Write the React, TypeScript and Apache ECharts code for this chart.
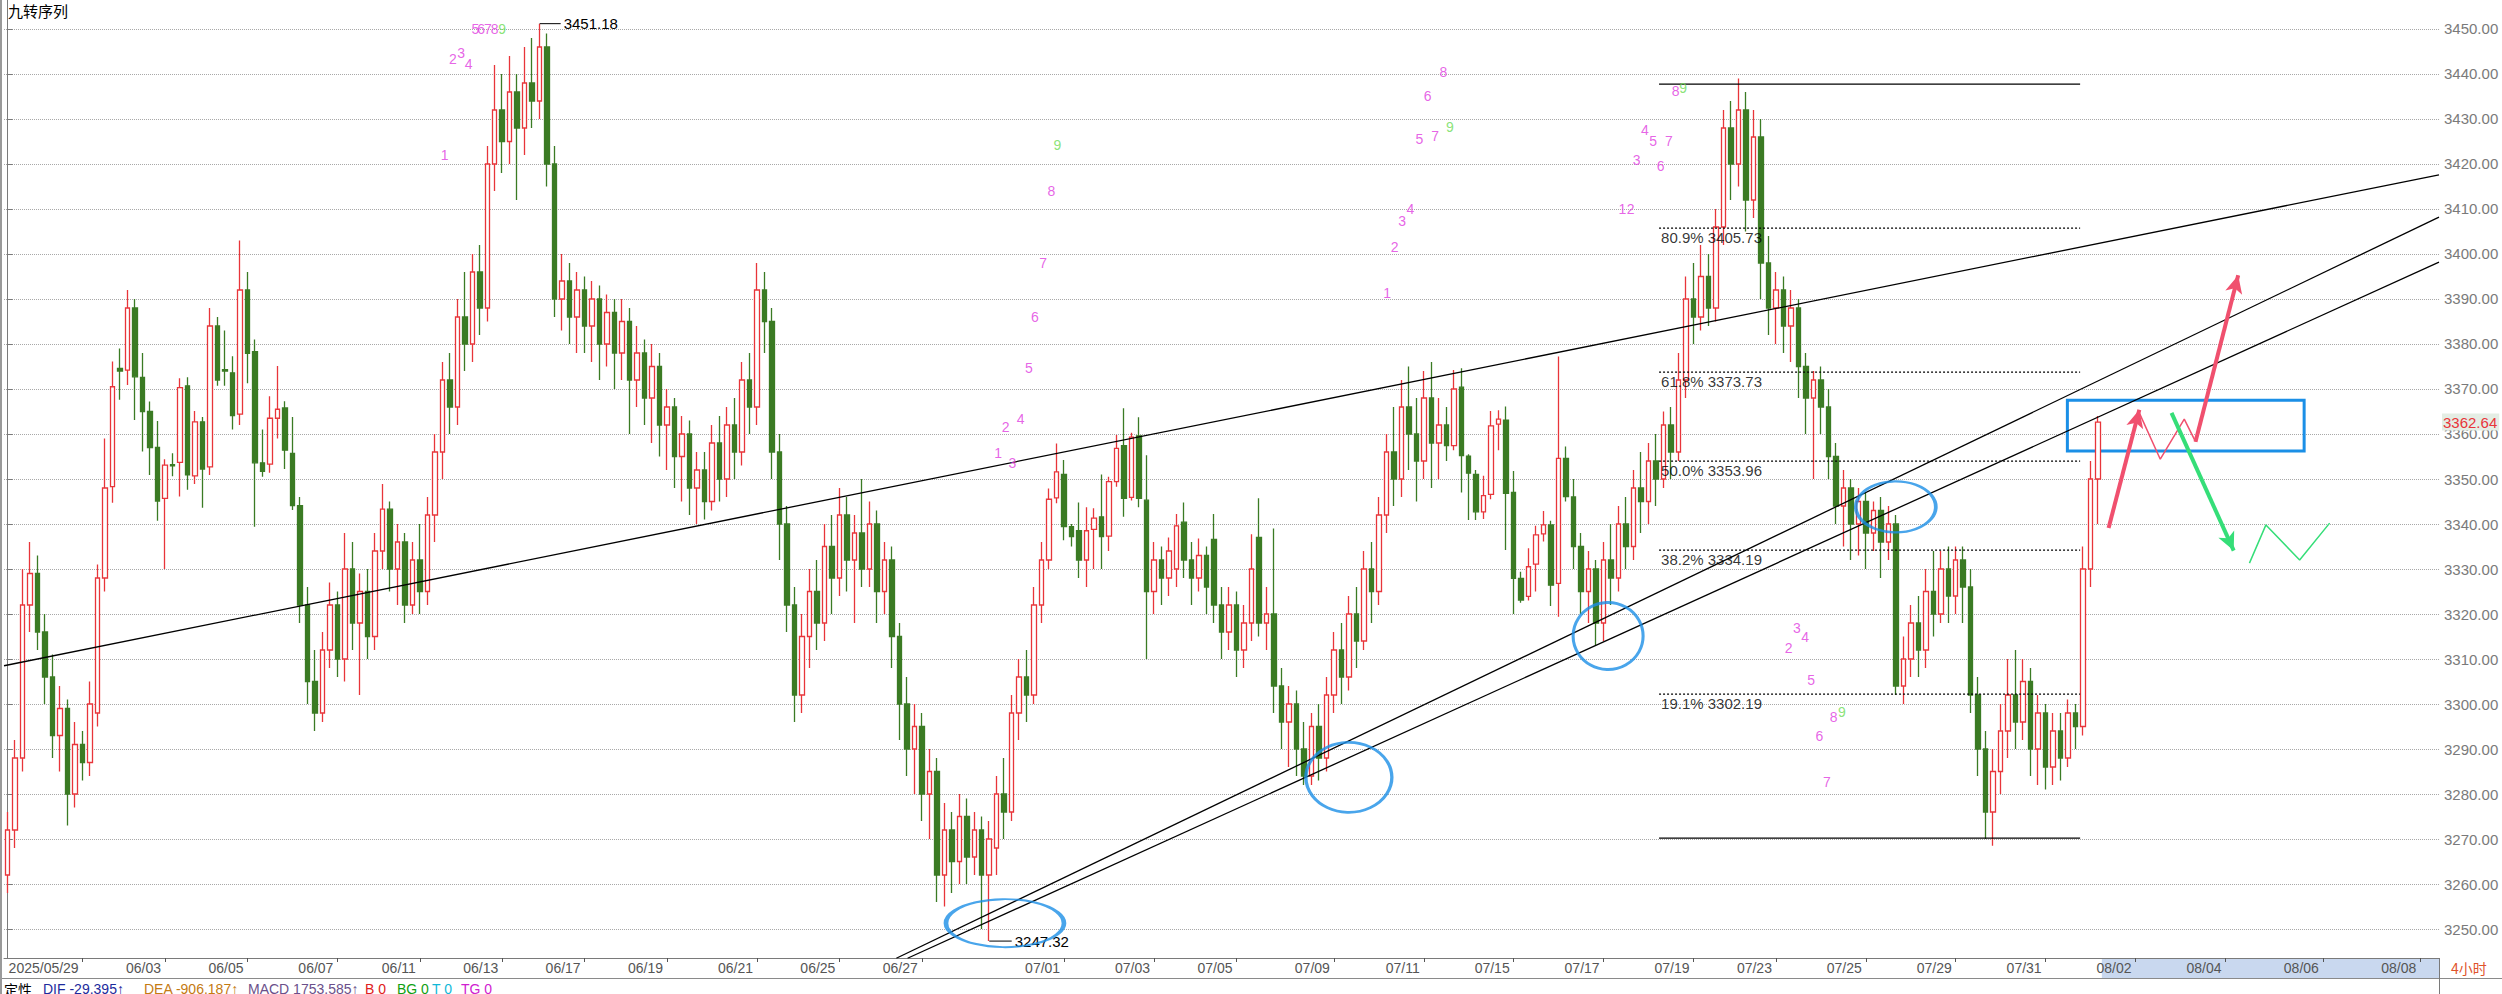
import React, { useEffect, useRef } from "react";
import * as echarts from "echarts";

const SLOT_COUNT = 325;
const Y_MIN = 3243.56;
const Y_MAX = 3456.44;

// [open, close, low, high]
const ohlc: number[][] = [
  [3262, 3272, 3258, 3276], [3272, 3288, 3268, 3292], [3288, 3322, 3285, 3330], [3322, 3329, 3316, 3336],
  [3329, 3316, 3312, 3333], [3316, 3306, 3300, 3320], [3306, 3293, 3288, 3311], [3293, 3299, 3285, 3304],
  [3299, 3280, 3273, 3301], [3280, 3291, 3277, 3296], [3291, 3287, 3283, 3294], [3287, 3300, 3284, 3305],
  [3298, 3328, 3295, 3331], [3328, 3348, 3325, 3359], [3348.3, 3370.5, 3344.7, 3376.1], [3374.6, 3374.0, 3367.6, 3379.0],
  [3374.2, 3388, 3370.9, 3392], [3388, 3372.7, 3363.1, 3390], [3372.6, 3365.0, 3356.1, 3378.0], [3365.0, 3357.0, 3350.9, 3367.2],
  [3357.0, 3345.1, 3340.7, 3362.9], [3345.7, 3353.1, 3330, 3354.4], [3353.2, 3352.9, 3350.6, 3355.7], [3353.7, 3370.3, 3346.1, 3372.4],
  [3370.7, 3350.9, 3347.6, 3372.6], [3350.7, 3362.7, 3348.9, 3365.1], [3362.7, 3352.2, 3343.6, 3363.8], [3352.7, 3384, 3350.9, 3388],
  [3384, 3372, 3370.7, 3386], [3374.3, 3374.0, 3370.7, 3383], [3373.6, 3364.1, 3361, 3377.3], [3364.4, 3392, 3362, 3403],
  [3392, 3377.9, 3371.3, 3396], [3378.3, 3353.6, 3339.4, 3381], [3353.6, 3351.7, 3350.5, 3361], [3353.3, 3363.5, 3351.4, 3368.4],
  [3363.5, 3365.5, 3359, 3375.1], [3365.8, 3356.4, 3352.2, 3367.3], [3355.7, 3344.1, 3343.1, 3363.8], [3344.1, 3322, 3318, 3346],
  [3322, 3305, 3300, 3326], [3305, 3298, 3294, 3312], [3298, 3312, 3296, 3316], [3312, 3322, 3308, 3327],
  [3322, 3310, 3306, 3325], [3310, 3330, 3305, 3338], [3330, 3318, 3312, 3336], [3318, 3325, 3302, 3329],
  [3325, 3315, 3310, 3330], [3315, 3334, 3312, 3338], [3334, 3343.3, 3330, 3348.9], [3343.3, 3330, 3325, 3345],
  [3330, 3336, 3322, 3340], [3336, 3322, 3318, 3338], [3322, 3332, 3320, 3336], [3332, 3325, 3320, 3340],
  [3325, 3342, 3322, 3346], [3342, 3356, 3336, 3360], [3356, 3372, 3350, 3376], [3372, 3366, 3360, 3378],
  [3366, 3386, 3362, 3390], [3386, 3380, 3374, 3396], [3380, 3396, 3376, 3400], [3396, 3388, 3382, 3402],
  [3388, 3420, 3385, 3424], [3420, 3432, 3414, 3442], [3432, 3425, 3418, 3440], [3425, 3436, 3420, 3444],
  [3436, 3428, 3412, 3440], [3428, 3438, 3422, 3446], [3438, 3434, 3428, 3448], [3434, 3446, 3430, 3451.18],
  [3446, 3420, 3415, 3449], [3420, 3390, 3386, 3424], [3390, 3394, 3383, 3400], [3394, 3386, 3380, 3398],
  [3386, 3392, 3378, 3396], [3392, 3384, 3378, 3395], [3384, 3390, 3376, 3394], [3390, 3380, 3372, 3393],
  [3380, 3387, 3375, 3391], [3387, 3378, 3370, 3390], [3378, 3385, 3372, 3390], [3385, 3372, 3360, 3388],
  [3372, 3378, 3366, 3384], [3378, 3368, 3362, 3381], [3368, 3375, 3358, 3380], [3375, 3362, 3355, 3378],
  [3362, 3366, 3352, 3370], [3366, 3355, 3348, 3368], [3355, 3360, 3345, 3364], [3360, 3348, 3342, 3363],
  [3348, 3352, 3340, 3356], [3352, 3345, 3341, 3356], [3345, 3358, 3343, 3362], [3358, 3350, 3345, 3364],
  [3350, 3362, 3346, 3366], [3362, 3356, 3350, 3368], [3356, 3372, 3353, 3376], [3372, 3366, 3360, 3378],
  [3366, 3392, 3362, 3398], [3392, 3385, 3378, 3396], [3385, 3356, 3350, 3388], [3356, 3340, 3332, 3360],
  [3340, 3322, 3316, 3344], [3322, 3302, 3296, 3326], [3302, 3315, 3298, 3320], [3315, 3325, 3308, 3330],
  [3325, 3318, 3312, 3332], [3318, 3335, 3314, 3340], [3335, 3328, 3320, 3342], [3328, 3342, 3324, 3348],
  [3342, 3332, 3325, 3346], [3332, 3338, 3318, 3342], [3338, 3330, 3326, 3350], [3330, 3340, 3326, 3345],
  [3340, 3325, 3318, 3343], [3325, 3332, 3320, 3336], [3332, 3315, 3308, 3335], [3315, 3300, 3292, 3318],
  [3300, 3290, 3284, 3306], [3290, 3295, 3280, 3300], [3295, 3280, 3274, 3298], [3280, 3285, 3270, 3290],
  [3285, 3262, 3256, 3288], [3262, 3272, 3255, 3278], [3272, 3265, 3258, 3276], [3265, 3275, 3260, 3280],
  [3275, 3266, 3260, 3279], [3266, 3272, 3262, 3276], [3272, 3262, 3250, 3275], [3262, 3270, 3247.32, 3274],
  [3268, 3280, 3262, 3284], [3280, 3276, 3270, 3288], [3276, 3298, 3274, 3302], [3298, 3306, 3292, 3310],
  [3306, 3302, 3296, 3312], [3302, 3322, 3300, 3326], [3322, 3332, 3318, 3336], [3332, 3345.5, 3330, 3347.9],
  [3345.8, 3351.6, 3344.6, 3357.9], [3351.0, 3339.4, 3336.4, 3354.2], [3339.4, 3337.2, 3335, 3340], [3338.5, 3332, 3328, 3344.8],
  [3332, 3338.5, 3326, 3343.7], [3338.8, 3341.3, 3330, 3343.5], [3341.6, 3337.2, 3330, 3351.0], [3337.3, 3349.4, 3334, 3350.5],
  [3349.4, 3356.8, 3348.3, 3359.8], [3357.4, 3345.7, 3341.6, 3365.7], [3345.9, 3359.3, 3345.2, 3360.3], [3359.6, 3345.7, 3343.7, 3363.7],
  [3345.3, 3325, 3310, 3355.3], [3325, 3332, 3320, 3336], [3332, 3328, 3322, 3335], [3328, 3334, 3324, 3337],
  [3330, 3339.6, 3326, 3342.2], [3340.4, 3332, 3328, 3344.8], [3332, 3328, 3322, 3336], [3328, 3333, 3325, 3336.8],
  [3333, 3326, 3320, 3335], [3336.6, 3322, 3318, 3342.2], [3322, 3316, 3310, 3326], [3316, 3322, 3312, 3326],
  [3322, 3312, 3306, 3325], [3312, 3318, 3308, 3322], [3318, 3330, 3314, 3337.7], [3337, 3318, 3315, 3345.7],
  [3318, 3320, 3312, 3326], [3320, 3304, 3298, 3339], [3304, 3296, 3290, 3308], [3296, 3300, 3286, 3304],
  [3300, 3290, 3284, 3303], [3290, 3284, 3282, 3296], [3284, 3295, 3282, 3298], [3295, 3288, 3283, 3300],
  [3288, 3302, 3285, 3306], [3302, 3312, 3298, 3316], [3312, 3306, 3300, 3318], [3306, 3320, 3303, 3324],
  [3320, 3314, 3308, 3326], [3314, 3330, 3312, 3334], [3330, 3325, 3318, 3336], [3325, 3342, 3322, 3346],
  [3342, 3356, 3338, 3360], [3356, 3350, 3344, 3366], [3350, 3366, 3346, 3372], [3366, 3360, 3352, 3375],
  [3360, 3354, 3345, 3368], [3354, 3368, 3350, 3374], [3368, 3358, 3348, 3376], [3358, 3362, 3350, 3368],
  [3362, 3357.4, 3354, 3366], [3357.4, 3370.0, 3356.4, 3374.2], [3370.4, 3355.2, 3347.0, 3374.6], [3355.1, 3351.3, 3340.9, 3355.5],
  [3351.0, 3342.7, 3340.9, 3352], [3342.7, 3346.3, 3341.1, 3350.7], [3346.6, 3361.8, 3345.5, 3365.1], [3362.2, 3363.3, 3356.4, 3365.3],
  [3363.1, 3346.8, 3334.2, 3366.1], [3347.0, 3327.9, 3320, 3351.8], [3327.9, 3323.1, 3322.5, 3329.4], [3323.9, 3330.5, 3323, 3334.6],
  [3331.1, 3337.6, 3325, 3339.6], [3337.8, 3339.8, 3336.1, 3342.9], [3339.8, 3326.4, 3321.8, 3340.7], [3326.8, 3354.6, 3319.4, 3377.2],
  [3354.6, 3346.1, 3345, 3357.2], [3346, 3335, 3330, 3350], [3335, 3325, 3320, 3338], [3325, 3330, 3318, 3334],
  [3330, 3318, 3313, 3332], [3318, 3332, 3314, 3336], [3332, 3328, 3322, 3340], [3328, 3340, 3325, 3344],
  [3340, 3335, 3330, 3346], [3335, 3348, 3332, 3352], [3348, 3345, 3338, 3356], [3345, 3354, 3340, 3358],
  [3354, 3350, 3344, 3360], [3350, 3362, 3348, 3365], [3362, 3356, 3350, 3366], [3356, 3372, 3354, 3378],
  [3372, 3390, 3368, 3395], [3390, 3386, 3380, 3398], [3386, 3395, 3383, 3402], [3395, 3388, 3384, 3400],
  [3388, 3406, 3385, 3410], [3406, 3428, 3402, 3432], [3428, 3420, 3412, 3434], [3420, 3432, 3415, 3439],
  [3432, 3412, 3405, 3436], [3412, 3426, 3408, 3432], [3426, 3398, 3390, 3430], [3398, 3388, 3382, 3404],
  [3388, 3392, 3380, 3396], [3392, 3384, 3378, 3395], [3384, 3388, 3376, 3392], [3388, 3375, 3368, 3390],
  [3375, 3368, 3360, 3378], [3368, 3372, 3350, 3374], [3372, 3366, 3360, 3375], [3366, 3355, 3350, 3370],
  [3355, 3344, 3340, 3358], [3344, 3348, 3335, 3352], [3348, 3340, 3332, 3350], [3340, 3345, 3333, 3348],
  [3345, 3338, 3330, 3347], [3338, 3343, 3334, 3345], [3343, 3336, 3328, 3346], [3336, 3340, 3332, 3344],
  [3340, 3304, 3302, 3342], [3304, 3310, 3300, 3315], [3310, 3318, 3306, 3322], [3318, 3312, 3306, 3324],
  [3312, 3325, 3308, 3330], [3325, 3320, 3315, 3334], [3320, 3330, 3318, 3334], [3330, 3324, 3318, 3335],
  [3324, 3332, 3320, 3335], [3332, 3326, 3318, 3335], [3326, 3302, 3298, 3330], [3302, 3290, 3284, 3306],
  [3290, 3276, 3270, 3294], [3276, 3285, 3268.5, 3290], [3285, 3294, 3280, 3300], [3294, 3302, 3288, 3310],
  [3302, 3296, 3290, 3312], [3296, 3305, 3292, 3310], [3305, 3290, 3284, 3308], [3290, 3298, 3282, 3302],
  [3298, 3286, 3281, 3300], [3286, 3294, 3282, 3298], [3294, 3288, 3283, 3298], [3288, 3298, 3286, 3301],
  [3298, 3295, 3290, 3300], [3295, 3330, 3293, 3335], [3330, 3350, 3326, 3354], [3350, 3362.64, 3340, 3364],
];

const tickLabels: [number, string][] = [
  [10, "2025/05/29"], [21, "06/03"], [32, "06/05"], [44, "06/07"], [55, "06/11"], [66, "06/13"],
  [77, "06/17"], [88, "06/19"], [100, "06/21"], [111, "06/25"], [122, "06/27"], [141, "07/01"],
  [153, "07/03"], [164, "07/05"], [177, "07/09"], [189, "07/11"], [201, "07/15"], [213, "07/17"],
  [225, "07/19"], [236, "07/23"], [248, "07/25"], [260, "07/29"], [272, "07/31"], [284, "08/02"],
  [296, "08/04"], [309, "08/06"], [322, "08/08"],
];

const upperLine = [[-0.5, 3308.5], [324.5, 3417.6]];
const channelLineA = [[118.6, 3243.5], [324.5, 3408.2]];
const channelLineB = [[120.1, 3243.5], [324.5, 3398.2]];

const fibLevels: [string, number][] = [
  ["80.9%", 3405.73], ["61.8%", 3373.73], ["50.0%", 3353.96], ["38.2%", 3334.19], ["19.1%", 3302.19],
];
const fibHigh = 3437.73;
const fibLow = 3270.19;
const fibRange = [220.4, 276.6];

const highPoint = [71, 3451.18];
const lowPoint = [131, 3247.32];
const lastPrice = 3362.64;

// [x, price, digit]
const nineTurn: [number, number, string][] = [
  [58.3, 3421.9, "1"], [59.4, 3443.3, "2"], [60.5, 3444.7, "3"], [61.5, 3442.2, "4"], [62.4, 3450.0, "5"],
  [63.2, 3450.0, "6"], [64.1, 3450.0, "7"], [65.0, 3450.0, "8"], [66.0, 3450.0, "9"],
  [132.2, 3355.8, "1"], [133.2, 3361.6, "2"], [134.1, 3353.6, "3"], [135.2, 3363.3, "4"], [136.3, 3374.7, "5"],
  [137.1, 3386.1, "6"], [138.2, 3397.9, "7"], [139.3, 3414.1, "8"], [140.1, 3424.2, "9"],
  [184.1, 3391.4, "1"], [185.1, 3401.6, "2"], [186.1, 3407.4, "3"], [187.2, 3409.9, "4"], [188.4, 3425.5, "5"],
  [189.5, 3435.1, "6"], [190.5, 3426.2, "7"], [191.6, 3440.4, "8"], [192.5, 3428.3, "9"],
  [215.5, 3409.9, "1"], [216.6, 3409.9, "2"], [217.4, 3420.9, "3"], [218.5, 3427.6, "4"], [219.6, 3425.1, "5"],
  [220.6, 3419.5, "6"], [221.7, 3425.1, "7"], [222.6, 3436.2, "8"], [223.6, 3436.9, "9"],
  [237.7, 3312.4, "2"], [238.8, 3317.0, "3"], [239.9, 3314.9, "4"], [240.7, 3305.3, "5"],
  [241.8, 3292.9, "6"], [242.8, 3282.6, "7"], [243.7, 3297.1, "8"], [244.8, 3298.2, "9"],
];

const ellipseCenters = [[133.1, 3251.3], [179.0, 3283.7], [213.6, 3315.1], [252.0, 3343.8]];
const zoneBox = [[274.9, 3367.5], [306.5, 3356.2]];

const redArrows = [
  [[280.4, 3339.1], [284.5, 3365.4]],
  [[292.0, 3358.3], [297.7, 3395.3]],
];
const redPath = [[284.5, 3364.7], [287.3, 3354.4], [290.5, 3363.3], [292.0, 3358.3]];
const greenArrows = [[[288.8, 3364.7], [297.1, 3334.1]]];
const greenPath = [[299.2, 3331.3], [301.4, 3339.8], [305.9, 3332.0], [309.9, 3340.2]];

const statusItems: [string, string][] = [
  ["定性", "#000000"], ["DIF -29.395↑", "#1c2a9c"], ["DEA -906.187↑", "#c47a12"],
  ["MACD 1753.585↑", "#6b4f8a"], ["B 0", "#e02020"], ["BG 0", "#10a010"], ["T 0", "#10b8d8"], ["TG 0", "#d020d0"],
];

const NUM_FONT = "Liberation Sans, Arial, sans-serif";
const CJK_FONT = "Noto Sans CJK SC, sans-serif";

export default function App() {
  const ref = useRef<HTMLDivElement>(null);

  useEffect(() => {
    if (!ref.current) return;
    const chart = echarts.init(ref.current, undefined, { renderer: "svg" });
    const categories = Array.from({ length: SLOT_COUNT }, (_, i) => String(i));
    const labelMap = new Map<number, string>(tickLabels);

    const RED = "#e8353a";
    const GREEN = "#3b7b24";
    const BLUE = "#1b8fe6";
    const ARROW_RED = "#f0506e";
    const ARROW_GREEN = "#35de78";

    const overlayLine = (data: number[][], color: string, width: number, type: any = "solid") => ({
      type: "line",
      xAxisIndex: 1,
      yAxisIndex: 0,
      data,
      symbol: "none",
      silent: true,
      lineStyle: { color, width, type },
      z: 4,
    });

    const series: any[] = [
      {
        type: "candlestick",
        xAxisIndex: 0,
        yAxisIndex: 0,
        data: ohlc,
        barWidth: 5,
        itemStyle: {
          color: "#ffffff",
          color0: GREEN,
          borderColor: RED,
          borderColor0: GREEN,
          borderWidth: 1.3,
        },
        z: 3,
      },
      overlayLine(upperLine, "#000000", 1.3),
      overlayLine(channelLineA, "#000000", 1.3),
      overlayLine(channelLineB, "#000000", 1.3),
      overlayLine([[fibRange[0], fibHigh], [fibRange[1], fibHigh]], "#000000", 1.2),
      overlayLine([[fibRange[0], fibLow], [fibRange[1], fibLow]], "#000000", 1.2),
      ...fibLevels.map(([, v]) =>
        overlayLine([[fibRange[0], v], [fibRange[1], v]], "#000000", 1.2, [2, 2])
      ),
      {
        type: "scatter",
        xAxisIndex: 1,
        yAxisIndex: 0,
        symbolSize: 0,
        silent: true,
        data: fibLevels.map(([pct, v]) => ({ value: [fibRange[0], v], name: `${pct} ${v.toFixed(2)}` })),
        label: {
          show: true,
          position: [2, 2],
          align: "left",
          verticalAlign: "top",
          formatter: (p: any) => p.name,
          color: "#000000",
          fontSize: 15,
          fontFamily: NUM_FONT,
        },
        z: 5,
      },
      {
        ...overlayLine([highPoint, [highPoint[0] + 2.8, highPoint[1]]], "#000000", 1),
        endLabel: { show: true, formatter: highPoint[1].toFixed(2), color: "#000", fontSize: 15, fontFamily: NUM_FONT, distance: 3 },
      },
      {
        ...overlayLine([lowPoint, [lowPoint[0] + 3, lowPoint[1]]], "#000000", 1),
        endLabel: { show: true, formatter: lowPoint[1].toFixed(2), color: "#000", fontSize: 15, fontFamily: NUM_FONT, distance: 3 },
      },
      {
        type: "scatter",
        xAxisIndex: 1,
        yAxisIndex: 0,
        symbolSize: 0,
        silent: true,
        data: nineTurn.map(([x, y, d]) => ({
          value: [x, y],
          name: d,
          label: { color: d === "9" ? "#6cdc55" : "#e03ce0" },
        })),
        label: {
          show: true,
          position: "inside",
          formatter: (p: any) => p.name,
          fontSize: 14,
          fontFamily: NUM_FONT,
        },
        z: 6,
      },
      {
        type: "scatter",
        xAxisIndex: 1,
        yAxisIndex: 0,
        silent: true,
        symbol: "circle",
        data: ellipseCenters.map((c, i) => ({
          value: c,
          symbolSize: [[118, 48], [86, 70], [70, 67], [80, 51]][i],
        })),
        itemStyle: { color: "rgba(0,0,0,0)", borderColor: BLUE, borderWidth: 3 },
        z: 7,
      },
      {
        type: "line",
        xAxisIndex: 1,
        yAxisIndex: 0,
        data: [],
        silent: true,
        markArea: {
          silent: true,
          itemStyle: { color: "rgba(0,0,0,0)", borderColor: BLUE, borderWidth: 3 },
          data: [[{ coord: zoneBox[0] }, { coord: zoneBox[1] }]],
        },
        markLine: {
          silent: true,
          label: { show: false },
          data: [
            ...redArrows.map(([a, b]) => [
              { coord: a, symbol: "none" },
              { coord: b, symbol: "arrow", symbolSize: [13, 18], lineStyle: { color: ARROW_RED, width: 4, type: "solid" } },
            ]),
            ...greenArrows.map(([a, b]) => [
              { coord: a, symbol: "none" },
              { coord: b, symbol: "arrow", symbolSize: [13, 18], lineStyle: { color: ARROW_GREEN, width: 4, type: "solid" } },
            ]),
          ],
        },
        z: 8,
      },
      overlayLine(redPath, ARROW_RED, 1.5),
      overlayLine(greenPath, ARROW_GREEN, 1.5),
    ];

    const option: any = {
      animation: false,
      backgroundColor: "#ffffff",
      title: {
        text: "九转序列",
        left: 3,
        top: -2,
        textStyle: { fontSize: 15, fontWeight: "normal", color: "#000", fontFamily: CJK_FONT },
      },
      grid: { left: 4, right: 63, top: 0, bottom: 36, outerBoundsMode: "none" },
      xAxis: [
        {
          type: "category",
          data: categories,
          boundaryGap: true,
          position: "bottom",
          axisLine: { lineStyle: { color: "#7a7a7a", width: 1 } },
          axisTick: {
            show: true,
            alignWithLabel: true,
            length: 4,
            interval: (i: number) => labelMap.has(i),
            lineStyle: { color: "#555" },
          },
          axisLabel: {
            interval: (i: number) => labelMap.has(i),
            formatter: (_v: string, i: number) => labelMap.get(i) || "",
            align: "right",
            padding: [0, 4, 0, 0],
            margin: 3,
            color: "#555",
            fontSize: 14,
            fontFamily: NUM_FONT,
          },
          splitLine: { show: false },
        },
        { type: "value", min: -0.5, max: SLOT_COUNT - 0.5, show: false },
      ],
      yAxis: [
        {
          type: "value",
          position: "right",
          min: Y_MIN,
          max: Y_MAX,
          splitNumber: 21,
          axisLine: { show: true, lineStyle: { color: "#7a7a7a" } },
          axisTick: { show: true, length: 5, lineStyle: { color: "#7a7a7a" } },
          axisLabel: {
            color: "#7a7a7a",
            fontSize: 15,
            fontFamily: NUM_FONT,
            margin: 5,
            showMinLabel: false,
            showMaxLabel: false,
            formatter: (v: number) => v.toFixed(2),
          },
          splitLine: {
            show: true,
            showMinLine: false,
            showMaxLine: false,
            lineStyle: { color: "#a8a8a8", type: [1, 1], width: 1 },
          },
        },
      ],
      series,
    };

    chart.setOption(option);

    const xStart = chart.convertToPixel({ xAxisIndex: 1 } as any, ohlc.length - 0.5) as number;
    const xEnd = chart.convertToPixel({ xAxisIndex: 1 } as any, SLOT_COUNT - 0.5) as number;
    const axisY = chart.convertToPixel({ yAxisIndex: 0 } as any, Y_MIN) as number;
    const lastY = chart.convertToPixel({ yAxisIndex: 0 } as any, lastPrice) as number;

    const statusX = [4, 43, 144, 248, 365, 397, 432, 461];
    const statusTexts: any[] = statusItems.map(([t, c], i) => ({
      type: "text",
      x: statusX[i],
      y: axisY + 24,
      style: { text: t, fill: c, font: `14px ${t === "定性" ? CJK_FONT : NUM_FONT}` },
      silent: true,
      z: 20,
    }));

    chart.setOption({
      graphic: [
        {
          type: "rect",
          shape: { x: xStart, y: axisY + 1, width: xEnd - xStart, height: 19 },
          style: { fill: "#c9d8ef" },
          z: -10,
          silent: true,
        },
        {
          type: "line",
          shape: { x1: 0, y1: axisY + 20.5, x2: 2502, y2: axisY + 20.5 },
          style: { stroke: "#8a8a8a", lineWidth: 1 },
          silent: true,
        },
        {
          type: "line",
          shape: { x1: xEnd + 0.5, y1: axisY, x2: xEnd + 0.5, y2: 994 },
          style: { stroke: "#7a7a7a", lineWidth: 1 },
          silent: true,
        },
        {
          type: "rect",
          shape: { x: 0, y: 0, width: 2, height: 994 },
          style: { fill: "#9a9a9a" },
          silent: true,
        },
        {
          type: "text",
          x: xEnd + 12,
          y: axisY + 3,
          style: { text: "4小时", fill: "#e0532b", font: `14px ${CJK_FONT}` },
          silent: true,
        },
        {
          type: "text",
          x: xEnd + 3,
          y: lastY,
          style: {
            text: lastPrice.toFixed(2),
            fill: RED,
            font: `15px ${NUM_FONT}`,
            verticalAlign: "middle",
            backgroundColor: "#e4ede4",
            padding: [1, 2, 1, 1],
          },
          silent: true,
          z: 30,
        },
        ...statusTexts,
      ],
    });

    return () => chart.dispose();
  }, []);

  return (
    <div
      ref={ref}
      style={{ position: "fixed", left: 0, top: 0, width: 2502, height: 994, background: "#fff" }}
    />
  );
}
